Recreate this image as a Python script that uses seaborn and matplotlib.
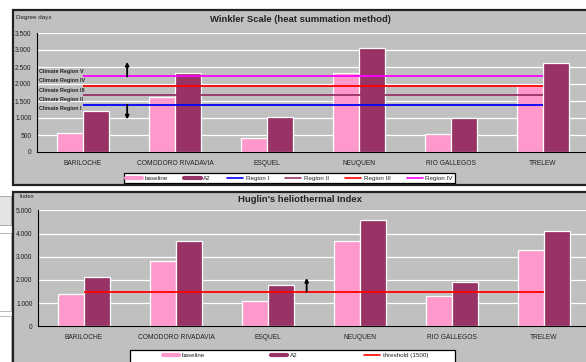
import matplotlib
matplotlib.use("Agg")
import matplotlib.pyplot as plt
from matplotlib.patches import Rectangle
from matplotlib.lines import Line2D
import pandas as pd
import seaborn as sns

# ---- data -------------------------------------------------------------
stations = ["BARILOCHE", "COMODORO RIVADAVIA", "ESQUEL", "NEUQUEN",
            "RIO GALLEGOS", "TRELEW"]
scenarios = ["baseline", "A2"]

winkler_baseline = [550, 1610, 405, 2335, 520, 1940]
winkler_a2 = [1215, 2315, 1030, 3050, 990, 2620]

huglin_baseline = [1380, 2800, 1090, 3665, 1295, 3300]
huglin_a2 = [2110, 3665, 1795, 4585, 1925, 4120]

region_names = ["Region I", "Region II", "Region III", "Region IV"]
region_limits = [1389, 1667, 1944, 2222]
climate_labels = ["Climate Region I", "Climate Region II", "Climate Region III",
                  "Climate Region IV", "Climate Region V"]
climate_label_y = [1265, 1530, 1800, 2110, 2380]

huglin_threshold = 1500
threshold_label = "threshold (1500)"

winkler_ticks = [0, 500, 1000, 1500, 2000, 2500, 3000, 3500]
huglin_ticks = [0, 1000, 2000, 3000, 4000, 5000]

# ---- style --------------------------------------------------------------
sns.set_style("white")
plt.rcParams["font.family"] = ["Liberation Sans", "DejaVu Sans"]
plt.rcParams["text.color"] = "#222222"

BG = "#C0C0C0"
BAR_COLORS = ["#FF99CC", "#993366"]
REGION_COLORS = ["#0000FF", "#993366", "#FF0000", "#FF00FF"]
THRESH_COLOR = "#FF0000"

W, H = 586, 362
fig = plt.figure(figsize=(W / 100, H / 100), dpi=100)
fig.patch.set_facecolor("white")


def fx(px):
    return px / W


def fy(py):
    return 1 - py / H


def fig_rect(x0, y0, x1, y1, **kw):
    r = Rectangle((fx(x0), fy(y1)), (x1 - x0) / W, (y1 - y0) / H,
                  transform=fig.transFigure, **kw)
    fig.add_artist(r)
    return r


def thousands(v):
    return f"{int(v):,}".replace(",", ".")


# neighbouring page fragments on the left edge
fig_rect(-5, 196, 11, 225, facecolor="#E4E4E4", edgecolor="#A0A0A0", lw=0.6, zorder=0)
fig_rect(-5, 233, 11, 311, facecolor="white", edgecolor="#B0B0B0", lw=0.6, zorder=0)
fig_rect(-5, 316, 11, 370, facecolor="white", edgecolor="#B0B0B0", lw=0.6, zorder=0)

# chart areas
fig_rect(13, 10, 600, 185, facecolor=BG, edgecolor="#222222", lw=1.6, zorder=0)
fig_rect(13, 191.5, 600, 375, facecolor=BG, edgecolor="#222222", lw=1.6, zorder=0)


def draw_bars(ax, base, a2, ticks):
    df = pd.DataFrame({
        "station": stations * 2,
        "scenario": [scenarios[0]] * len(stations) + [scenarios[1]] * len(stations),
        "value": list(base) + list(a2),
    })
    sns.barplot(data=df, x="station", y="value", hue="scenario",
                order=stations, hue_order=scenarios, palette=BAR_COLORS,
                width=0.56, saturation=1, edgecolor="white", linewidth=0.9,
                errorbar=None, legend=False, ax=ax, zorder=2)
    ax.set_facecolor(BG)
    ax.set_xlim(-0.5, len(stations) - 0.5)
    ax.set_ylim(ticks[0], ticks[-1])
    ax.set_yticks(ticks)
    ax.set_yticklabels([thousands(t) for t in ticks])
    ax.yaxis.grid(True, color="white", lw=0.9, zorder=0)
    ax.set_axisbelow(True)
    ax.set_xlabel("")
    ax.set_ylabel("")
    for s in ("top", "right"):
        ax.spines[s].set_visible(False)
    for s in ("left", "bottom"):
        ax.spines[s].set_color("black")
        ax.spines[s].set_linewidth(0.8)
    ax.set_xticks(range(len(stations)))
    ax.set_xticklabels(stations)
    ax.set_xticks([i - 0.5 for i in range(len(stations) + 1)], minor=True)
    ax.tick_params(axis="x", which="major", length=0, pad=5.5, labelsize=4.8,
                   labelcolor="#222222")
    ax.tick_params(axis="x", which="minor", length=2.5, width=0.8,
                   direction="out", color="black")
    ax.tick_params(axis="y", length=2.5, width=0.8, direction="out", pad=1.5,
                   labelsize=4.8, labelcolor="#222222", color="black")


# ---- Winkler scale ----------------------------------------------------
ax1 = fig.add_axes([fx(37), fy(152), (589 - 37) / W, (152 - 33) / H])
draw_bars(ax1, winkler_baseline, winkler_a2, winkler_ticks)
xs = list(range(len(stations)))
for lim, col in zip(region_limits, REGION_COLORS):
    ax1.plot(xs, [lim] * len(xs), color=col, lw=1.3, zorder=4,
             solid_capstyle="butt")
for lab, yv in zip(climate_labels, climate_label_y):
    ax1.text(-0.48, yv, lab, fontsize=3.9, fontweight="bold", va="center",
             ha="left", color="#222222", zorder=5)
ax1.annotate("", xy=(0.48, 2650), xytext=(0.48, region_limits[3]),
             arrowprops=dict(arrowstyle="-|>", color="black", lw=1.3,
                             mutation_scale=5, shrinkA=0, shrinkB=0), zorder=5)
ax1.annotate("", xy=(0.48, 960), xytext=(0.48, region_limits[0]),
             arrowprops=dict(arrowstyle="-|>", color="black", lw=1.3,
                             mutation_scale=5, shrinkA=0, shrinkB=0), zorder=5)

fig.text(fx(300), fy(19), "Winkler Scale (heat summation method)",
         ha="center", va="center", fontsize=6.8, fontweight="bold")
fig.text(fx(16), fy(17), "Degree days", ha="left", va="center", fontsize=4.5)

handles1 = [Line2D([], [], color=BAR_COLORS[0], lw=3),
            Line2D([], [], color=BAR_COLORS[1], lw=3)]
handles1 += [Line2D([], [], color=c, lw=1.2) for c in REGION_COLORS]
leg1 = fig.legend(handles1, scenarios + region_names, loc="center",
                  bbox_to_anchor=(fx(124), fy(184.5), (455 - 124) / W, (184.5 - 172) / H),
                  mode="expand", ncol=6, fontsize=4.5, frameon=True,
                  fancybox=False, edgecolor="black", facecolor="white",
                  framealpha=1, handlelength=2.6, handletextpad=0.4,
                  borderpad=0.35, borderaxespad=0)
leg1.get_frame().set_linewidth(0.9)

# ---- Huglin index -------------------------------------------------------
ax2 = fig.add_axes([fx(38), fy(326.3), (590 - 38) / W, (326.3 - 210.3) / H])
draw_bars(ax2, huglin_baseline, huglin_a2, huglin_ticks)
ax2.plot(xs, [huglin_threshold] * len(xs), color=THRESH_COLOR, lw=1.3,
         zorder=4, solid_capstyle="butt")
ax2.annotate("", xy=(2.42, 2080), xytext=(2.42, huglin_threshold),
             arrowprops=dict(arrowstyle="-|>", color="black", lw=1.3,
                             mutation_scale=5, shrinkA=0, shrinkB=0), zorder=5)

fig.text(fx(300), fy(200), "Huglin's heliothermal Index",
         ha="center", va="center", fontsize=6.8, fontweight="bold")
fig.text(fx(20), fy(197), "Index", ha="left", va="center", fontsize=4.3)

# legend box, then its entries spread across it
fig_rect(130, 349.5, 455, 366, facecolor="white", edgecolor="black", lw=0.9, zorder=3)
handles2 = [Line2D([], [], color=BAR_COLORS[0], lw=3),
            Line2D([], [], color=BAR_COLORS[1], lw=3),
            Line2D([], [], color=THRESH_COLOR, lw=1.2)]
leg2 = fig.legend(handles2, scenarios + [threshold_label], loc="center left",
                  bbox_to_anchor=(fx(163), fy(355.7)),
                  ncol=3, fontsize=4.5, frameon=False,
                  handlelength=2.6, handletextpad=0.4, columnspacing=10.6,
                  borderpad=0, borderaxespad=0)
leg2.set_zorder(4)

fig.savefig("out.png", dpi=100, facecolor="white")
